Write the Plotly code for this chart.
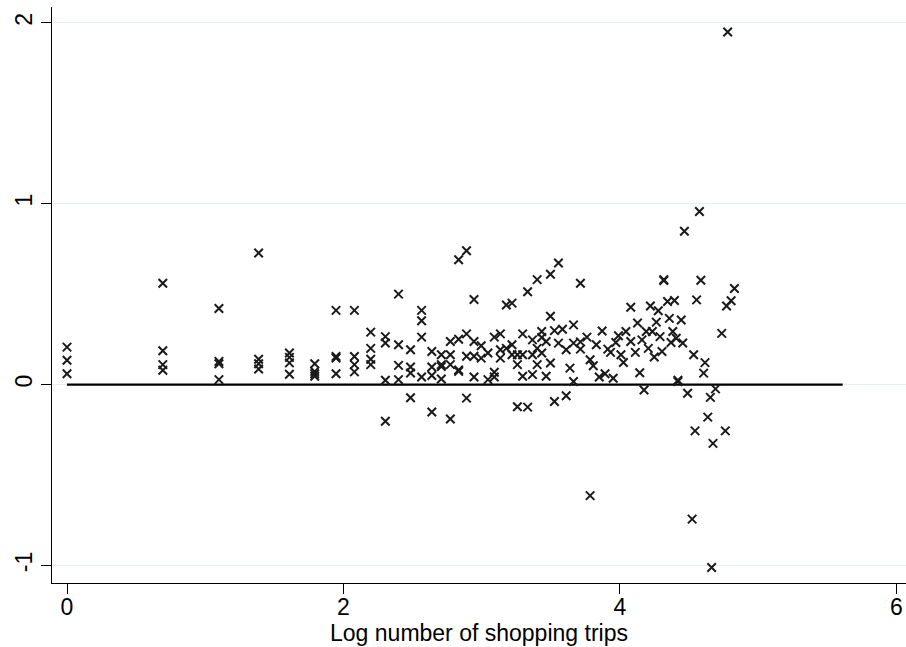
import plotly.graph_objects as go

# Residuals against log number of shopping trips, one column per trip count
log_trips = [
    0.000, 0.000, 0.000,
    0.693, 0.693, 0.693, 0.693,
    1.099, 1.099, 1.099, 1.099,
    1.386, 1.386, 1.386, 1.386,
    1.609, 1.609, 1.609, 1.609,
    1.792, 1.792, 1.792, 1.792,
    1.946, 1.946, 1.946, 1.946,
    2.079, 2.079, 2.079, 2.079,
    2.197, 2.197, 2.197, 2.197,
    2.303, 2.303, 2.303, 2.303,
    2.398, 2.398, 2.398, 2.398,
    2.485, 2.485, 2.485, 2.485,
    2.565, 2.565, 2.565, 2.565,
    2.639, 2.639, 2.639, 2.639,
    2.708, 2.708, 2.708, 2.708,
    2.773, 2.773, 2.773, 2.773,
    2.833, 2.833, 2.833, 2.833,
    2.890, 2.890, 2.890, 2.890,
    2.944, 2.944, 2.944, 2.944,
    2.996, 2.996,
    3.045, 3.045,
    3.091, 3.091, 3.091,
    3.135, 3.135, 3.135,
    3.178, 3.178,
    3.219, 3.219, 3.219,
    3.258, 3.258, 3.258,
    3.296, 3.296, 3.296,
    3.332, 3.332,
    3.367, 3.367, 3.367,
    3.401, 3.401, 3.401,
    3.434, 3.434, 3.434,
    3.466, 3.466,
    3.497, 3.497, 3.497,
    3.526, 3.526,
    3.555, 3.555,
    3.584,
    3.611, 3.611,
    3.638,
    3.664, 3.664, 3.664,
    3.714, 3.714, 3.714,
    3.761,
    3.784, 3.784,
    3.807,
    3.829,
    3.850,
    3.871,
    3.892,
    3.912,
    3.932,
    3.951,
    3.970,
    3.989,
    4.007,
    4.025,
    4.043,
    4.078, 4.078,
    4.111,
    4.127,
    4.143,
    4.159,
    4.174,
    4.190,
    4.205,
    4.220,
    4.234,
    4.248,
    4.263,
    4.277,
    4.290,
    4.304,
    4.317, 4.317,
    4.344,
    4.357,
    4.369,
    4.382,
    4.394,
    4.407,
    4.419, 4.419,
    4.443,
    4.454,
    4.466,
    4.489,
    4.522,
    4.533,
    4.543,
    4.554,
    4.575,
    4.585,
    4.605,
    4.615,
    4.635,
    4.654,
    4.663,
    4.673,
    4.691,
    4.736,
    4.762,
    4.771,
    4.779,
    4.804,
    4.828,
]

residual = [
    0.207, 0.134, 0.060,
    0.560, 0.187, 0.110, 0.079,
    0.420, 0.128, 0.115, 0.027,
    0.727, 0.140, 0.115, 0.086,
    0.174, 0.150, 0.120, 0.057,
    0.115, 0.073, 0.060, 0.046,
    0.410, 0.155, 0.146, 0.060,
    0.410, 0.155, 0.110, 0.070,
    0.290, 0.200, 0.140, 0.110,
    0.265, 0.230, 0.024, -0.203,
    0.500, 0.220, 0.106, 0.027,
    0.192, 0.097, 0.064, -0.073,
    0.410, 0.353, 0.262, 0.042,
    0.183, 0.097, 0.050, -0.152,
    0.165, 0.110, 0.100, 0.031,
    0.238, 0.165, 0.110, -0.190,
    0.690, 0.250, 0.080, 0.073,
    0.740, 0.280, 0.156, -0.075,
    0.470, 0.238, 0.156, 0.042,
    0.214, 0.146,
    0.174, 0.027,
    0.262, 0.068, 0.042,
    0.280, 0.192, 0.146,
    0.440, 0.200,
    0.450, 0.220, 0.165,
    0.165, 0.110, -0.123,
    0.280, 0.165, 0.046,
    0.513, -0.125,
    0.247, 0.165, 0.055,
    0.580, 0.200, 0.110,
    0.293, 0.260, 0.174,
    0.238, 0.046,
    0.610, 0.378, 0.119,
    0.298, -0.094,
    0.672, 0.229,
    0.306,
    0.192, -0.062,
    0.091,
    0.330, 0.229, 0.017,
    0.560, 0.236, 0.196,
    0.262,
    0.137, -0.614,
    0.104,
    0.220,
    0.042,
    0.296,
    0.060,
    0.196,
    0.178,
    0.035,
    0.232,
    0.270,
    0.165,
    0.122,
    0.293,
    0.238, 0.427,
    0.178,
    0.340,
    0.065,
    0.247,
    -0.030,
    0.293,
    0.200,
    0.434,
    0.293,
    0.152,
    0.345,
    0.408,
    0.265,
    0.183,
    0.580, 0.575,
    0.459,
    0.366,
    0.232,
    0.293,
    0.465,
    0.256,
    0.016, 0.024,
    0.357,
    0.230,
    0.847,
    -0.048,
    -0.744,
    0.165,
    -0.256,
    0.468,
    0.957,
    0.577,
    0.063,
    0.121,
    -0.180,
    -0.071,
    -1.011,
    -0.325,
    -0.024,
    0.283,
    -0.256,
    0.434,
    1.949,
    0.463,
    0.531,
]

# Zero reference line
ref_x = [0.0, 5.611]
ref_y = [0.0, 0.0]

y_ticks = [-1, 0, 1, 2]
y_tick_text = ["-1", "0", "1", "2"]
x_ticks = [0, 2, 4, 6]
x_tick_text = ["0", "2", "4", "6"]

FONT = "Arial, 'Liberation Sans', sans-serif"
INK = "#1a1a1a"

fig = go.Figure()

fig.add_trace(go.Scatter(
    x=ref_x, y=ref_y, mode="lines",
    line=dict(color="black", width=2.3),
    hoverinfo="skip", showlegend=False,
))

fig.add_trace(go.Scatter(
    x=log_trips, y=residual, mode="markers",
    marker=dict(symbol="x-thin", size=8.5,
                line=dict(color=INK, width=2), color=INK),
    showlegend=False,
))

fig.update_layout(
    width=906, height=647,
    margin=dict(l=52, r=0, t=7, b=64),
    paper_bgcolor="white", plot_bgcolor="white",
    font=dict(family=FONT, size=22, color="black"),
    showlegend=False,
)

fig.update_xaxes(
    range=[-0.1085, 6.069],
    tickmode="array", tickvals=x_ticks, ticktext=x_tick_text,
    ticks="outside", ticklen=10, tickwidth=1.3, tickcolor="black",
    ticklabelstandoff=-7,
    showline=True, linecolor="black", linewidth=1.3,
    showgrid=False, zeroline=False,
    tickfont=dict(size=23, color="black"),
    title=dict(text="Log number of shopping trips", font=dict(size=23), standoff=4),
)

fig.update_yaxes(
    range=[-1.097, 2.087],
    tickmode="array", tickvals=y_ticks, ticktext=y_tick_text,
    tickangle=-90,
    ticks="outside", ticklen=10, tickwidth=1.3, tickcolor="black",
    showline=True, linecolor="black", linewidth=1.3,
    showgrid=True, gridcolor="#e6eef0", gridwidth=1.2,
    zeroline=False,
    tickfont=dict(size=23, color="black"),
)

fig.write_html("out.html")
